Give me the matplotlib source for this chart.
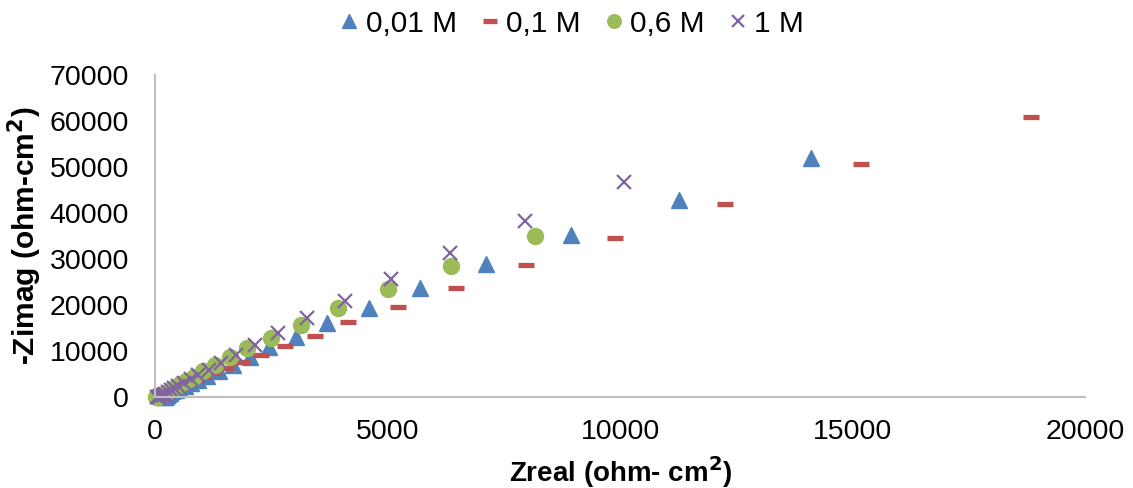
import matplotlib.pyplot as plt
from matplotlib.ticker import MultipleLocator

plt.rcParams['font.family'] = ['Liberation Sans', 'DejaVu Sans']

# Nyquist data, Zreal / -Zimag in ohm-cm2
zre_001 = [14100, 11260, 8950, 7110, 5700, 4600, 3700, 3020, 2450, 2040, 1670,
           1370, 1120, 920, 760, 630, 520, 440, 370, 320, 280, 250, 230, 215, 205, 200]
zim_001 = [52000, 42800, 35200, 28900, 23800, 19400, 16100, 13100, 10900, 8700, 7000,
           5700, 4600, 3800, 3100, 2500, 2000, 1600, 1250, 950, 700, 500, 330, 200, 100, 40]

zre_01 = [18830, 15170, 12260, 9890, 7980, 6460, 5220, 4150, 3430, 2800, 2280, 1870,
          1530, 1250, 1030, 850, 700, 580, 490, 410, 350, 300, 260, 230, 210, 190]
zim_01 = [60870, 50650, 41960, 34560, 28700, 23700, 19560, 16300, 13260, 11090, 9130, 7610,
          6300, 5200, 4300, 3500, 2800, 2250, 1800, 1400, 1050, 750, 500, 300, 150, 60]

zre_06 = [8170, 6370, 5000, 3930, 3130, 2500, 1980, 1610, 1280, 1030, 830, 670,
          540, 440, 360, 290, 240, 190, 150, 120, 90, 60, 40, 25]
zim_06 = [35000, 28480, 23480, 19350, 15650, 12830, 10650, 8700, 6960, 5600, 4500, 3600,
          2850, 2250, 1750, 1300, 950, 650, 450, 300, 180, 100, 40, 10]

zre_1 = [10070, 7960, 6330, 5070, 4070, 3260, 2650, 2150, 1740, 1410, 1150, 930,
         760, 620, 500, 410, 330, 270, 220, 180, 140, 110, 80, 60, 45]
zim_1 = [46740, 38260, 31300, 25650, 20870, 17170, 13910, 11300, 9130, 7390, 6000, 4850,
         3900, 3150, 2500, 1950, 1500, 1100, 800, 560, 380, 250, 150, 80, 30]

labels = ['0,01 M', '0,1 M', '0,6 M', '1 M']

fig = plt.figure(figsize=(11.33, 4.88), dpi=100)
ax = fig.add_axes([0.137, 0.186, 0.821, 0.66])

ax.plot(zre_001, zim_001, linestyle='none', marker='^', markersize=12,
        color='#4F81BD', label=labels[0], clip_on=False)
ax.plot(zre_01, zim_01, linestyle='none', marker='_', markersize=11.5,
        markeredgewidth=3.8, color='#C0504D', label=labels[1], clip_on=False)
ax.plot(zre_06, zim_06, linestyle='none', marker='o', markersize=11.5,
        color='#9BBB59', label=labels[2], clip_on=False)
ax.plot(zre_1, zim_1, linestyle='none', marker='x', markersize=10.5,
        markeredgewidth=1.6, color='#8064A2', label=labels[3], clip_on=False)

ax.set_xlim(0, 20000)
ax.set_ylim(0, 70000)
ax.xaxis.set_major_locator(MultipleLocator(5000))
ax.yaxis.set_major_locator(MultipleLocator(10000))
ax.tick_params(axis='both', length=0, labelsize=20.5)
ax.tick_params(axis='x', pad=16)
ax.tick_params(axis='y', pad=19)

for side in ['top', 'right']:
    ax.spines[side].set_visible(False)
for side in ['left', 'bottom']:
    ax.spines[side].set_color('#BFBFBF')
    ax.spines[side].set_linewidth(1.5)

ax.set_xlabel('Zreal (ohm- cm$^{\\mathbf{2}}$)', fontsize=20, fontweight='bold', labelpad=6)
ax.set_ylabel('-Zimag (ohm-cm$^{\\mathbf{2}}$)', fontsize=21.5, fontweight='bold', labelpad=4)

fig.legend(loc='upper center', bbox_to_anchor=(0.505, 1.035), ncol=4, frameon=False,
           fontsize=21.5, handlelength=0.6, handletextpad=0.25, columnspacing=0.8,
           markerscale=0.85)

fig.savefig('out.png', dpi=100)
